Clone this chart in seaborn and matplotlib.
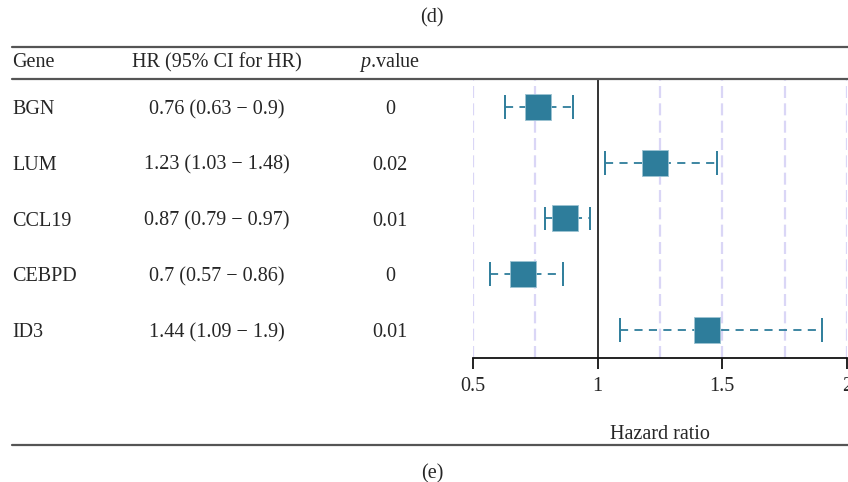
import matplotlib
matplotlib.use("Agg")
import matplotlib.pyplot as plt
import seaborn as sns
import pandas as pd
import numpy as np

# Cox regression results per gene
genes = ["BGN", "LUM", "CCL19", "CEBPD", "ID3"]
hr = [0.76, 1.23, 0.87, 0.70, 1.44]
ci_low = [0.63, 1.03, 0.79, 0.57, 1.09]
ci_high = [0.90, 1.48, 0.97, 0.86, 1.90]
hr_labels = ["0.76 (0.63 \u2212 0.9)", "1.23 (1.03 \u2212 1.48)", "0.87 (0.79 \u2212 0.97)",
             "0.7 (0.57 \u2212 0.86)", "1.44 (1.09 \u2212 1.9)"]
p_values = ["0", "0.02", "0.01", "0", "0.01"]
x_ticks = [0.5, 1, 1.5, 2]
x_tick_labels = ["0.5", "1", "1.5", "2"]
grid_x = [0.5, 0.75, 1.25, 1.5, 1.75, 2.0]

sns.set_theme(style="white")
plt.rcParams["font.family"] = ["Liberation Serif", "DejaVu Serif"]
plt.rcParams["mathtext.fontset"] = "custom"
plt.rcParams["mathtext.rm"] = "Liberation Serif"
plt.rcParams["mathtext.it"] = "Liberation Serif:italic"

W, H = 848, 482
fig = plt.figure(figsize=(W / 100, H / 100), dpi=100)

def fx(px):
    return px / W

def fy(py):
    return 1 - py / H

FS = 14.5
BOX = "#2E7D9B"
RULE = "#555555"
DY = 2.5  # text nudge in pixels

df = pd.DataFrame({"gene": genes, "hr": hr, "lo": ci_low, "hi": ci_high,
                   "row": np.arange(1, len(genes) + 1)})

# forest panel
ax = fig.add_axes([fx(473), fy(358), fx(847) - fx(473), fy(79) - fy(358)])
ax.set_xlim(0.5, 2.0)
ax.set_ylim(len(genes) + 0.5, 0.5)

for gx in grid_x:
    ax.axvline(gx, color="#DAD6F6", lw=1.6, ls=(0, (5.4, 2.4)), zorder=0)
ax.axvline(1.0, color="#333333", lw=1.4, zorder=1)

ax.hlines(df["row"], df["lo"], df["hi"], colors=BOX, lw=1.3,
          linestyles=(0, (4.5, 3.5)), zorder=2)
ax.vlines(df["lo"], df["row"] - 0.215, df["row"] + 0.215, colors=BOX, lw=1.4, zorder=2)
ax.vlines(df["hi"], df["row"] - 0.215, df["row"] + 0.215, colors=BOX, lw=1.4, zorder=2)
sns.scatterplot(data=df, x="hr", y="row", marker="s", s=350, color=BOX,
                edgecolor="#9CC3D3", linewidth=0.6, ax=ax, zorder=3, legend=False)

for side in ["top", "right", "left"]:
    ax.spines[side].set_visible(False)
ax.spines["bottom"].set_color("#111111")
ax.spines["bottom"].set_linewidth(1.3)
ax.set_yticks([])
ax.set_xticks(x_ticks)
ax.set_xticklabels(x_tick_labels, fontsize=FS)
ax.tick_params(axis="x", length=8, width=1.3, color="#111111", pad=6, bottom=True)
ax.set_xlabel("")
ax.set_ylabel("")

# table rules
for py in [47, 79, 445]:
    fig.add_artist(plt.Line2D([fx(12), 1.0], [fy(py), fy(py)], color=RULE, lw=1.6))

# titles
fig.text(fx(432), fy(15 + DY), "(d)", ha="center", va="center", fontsize=FS)
fig.text(fx(432), fy(471 + DY), "(e)", ha="center", va="center", fontsize=FS)

# header
fig.text(fx(12), fy(60 + DY), "Gene", ha="left", va="center", fontsize=FS)
fig.text(fx(217), fy(60 + DY), "HR (95% CI for HR)", ha="center", va="center", fontsize=FS)
fig.text(fx(390), fy(60 + DY), "$\\mathit{p}$.value", ha="center", va="center", fontsize=FS)

# table rows aligned to forest rows
for i, g in enumerate(genes):
    yd = ax.transData.transform((1.0, i + 1))[1] - DY
    yfig = fig.transFigure.inverted().transform((0, yd))[1]
    fig.text(fx(12), yfig, g, ha="left", va="center", fontsize=FS)
    fig.text(fx(217), yfig, hr_labels[i], ha="center", va="center", fontsize=FS)
    fig.text(fx(390), yfig, p_values[i], ha="center", va="center", fontsize=FS)

fig.text(fx(660), fy(432 + DY), "Hazard ratio", ha="center", va="center", fontsize=FS)

fig.savefig("out.png", dpi=100)
